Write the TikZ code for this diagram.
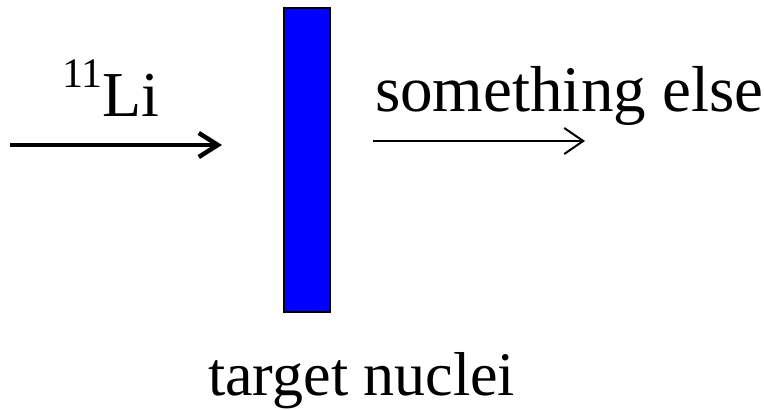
\documentclass[tikz,border=0pt]{standalone}
\usepackage{fontspec}
\setmainfont{Liberation Serif}
\usetikzlibrary{arrows.meta}
\begin{document}
\begin{tikzpicture}[x=1pt,y=-1pt,
  lbl/.style={anchor=base west, inner sep=0pt},
  beam/.style={line width=4.5pt, -{Straight Barb[length=19pt,width=24pt,line width=4.5pt]}},
  outbeam/.style={line width=2pt, -{Straight Barb[length=19pt,width=26pt,line width=2pt]}}]
\useasboundingbox (0,0) rectangle (764,410);
\node[draw=black, fill=blue, line width=2pt, minimum width=46pt, minimum height=304pt, inner sep=0pt, anchor=north west] (target) at (283,7) {};
\node[lbl, font=\fontsize{64}{70}\selectfont] (li) at (62,116) {\raisebox{0.45em}{\fontsize{42}{46}\selectfont 11}Li};
\node[lbl, font=\fontsize{65}{72}\selectfont] (else) at (375,111) {something else};
\node[lbl, font=\fontsize{62}{70}\selectfont] (tn) at (208,395) {target nuclei};
\coordinate (a1) at (10,145);
\coordinate (a2) at (222,145);
\coordinate (b1) at (373,141);
\coordinate (b2) at (585,141);
\draw[beam] (a1) -- (a2);
\draw[outbeam] (b1) -- (b2);
\end{tikzpicture}
\end{document}
